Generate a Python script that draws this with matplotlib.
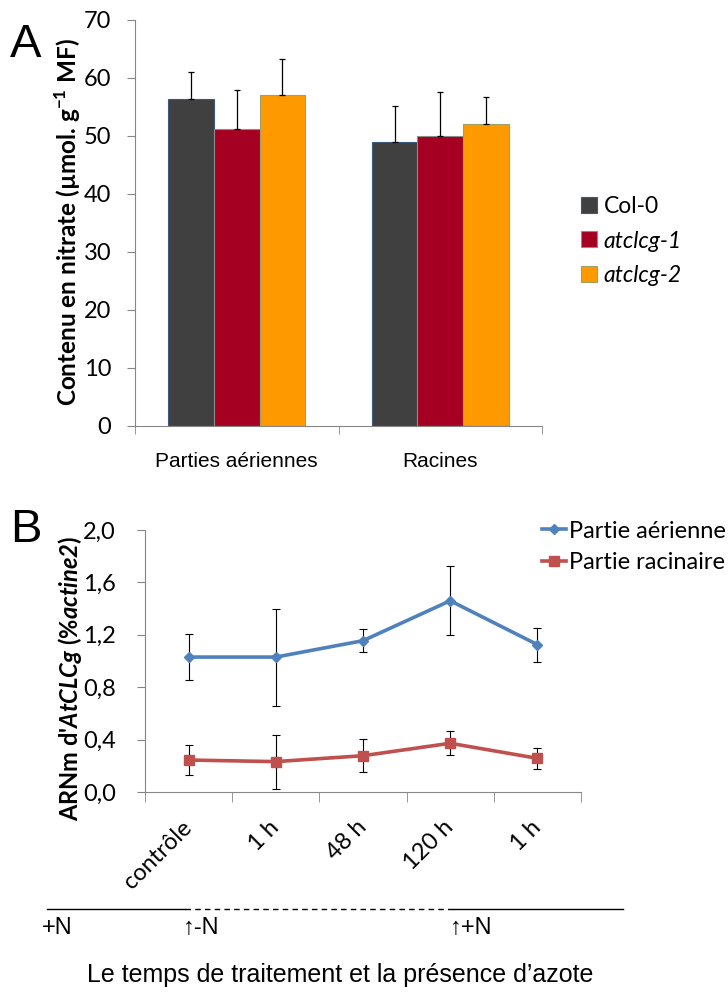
import matplotlib
matplotlib.use('Agg')
import matplotlib.pyplot as plt
import matplotlib.transforms as mtransforms
import numpy as np
from matplotlib.patches import Patch
from matplotlib.lines import Line2D

plt.rcParams['font.family'] = ['Lato', 'DejaVu Sans']
plt.rcParams['mathtext.fontset'] = 'custom'
plt.rcParams['mathtext.rm'] = 'Lato:bold'
plt.rcParams['mathtext.bfit'] = 'Lato:italic:bold'

# --- panel A data: nitrate content
organs = ['Parties aériennes', 'Racines']
genotypes = ['Col-0', 'atclcg-1', 'atclcg-2']
nitrate_col0 = [56.4, 48.9]
nitrate_col0_err = [4.6, 6.2]
nitrate_clcg1 = [51.2, 50.0]
nitrate_clcg1_err = [6.7, 7.5]
nitrate_clcg2 = [57.0, 52.1]
nitrate_clcg2_err = [6.2, 4.7]
bar_colors = ['#404040', '#A50021', '#FF9900']
bar_edges = ['#3B5A80', '#8C8C8C', '#A0A060']

# --- panel B data: AtCLCg mRNA
times = ['contrôle', '1 h', '48 h', '120 h', '1 h']
aerienne = [1.03, 1.03, 1.155, 1.46, 1.125]
aerienne_err = [0.175, 0.37, 0.088, 0.262, 0.13]
racinaire = [0.244, 0.232, 0.277, 0.372, 0.257]
racinaire_err = [0.117, 0.206, 0.127, 0.09, 0.082]
series_b = ['Partie aérienne', 'Partie racinaire']
yticks_b = [0.0, 0.4, 0.8, 1.2, 1.6, 2.0]
yticklabels_b = ['0,0', '0,4', '0,8', '1,2', '1,6', '2,0']

W, H = 728, 996
fig = plt.figure(figsize=(W / 100, H / 100), dpi=100)

def px(x0, y0, x1, y1):
    return [x0 / W, 1 - y1 / H, (x1 - x0) / W, (y1 - y0) / H]

axis_grey = '#868686'
arial = ['Liberation Sans', 'DejaVu Sans']

# ---------------- panel A
axA = fig.add_axes(px(135, 20, 542, 426))
x = np.arange(len(organs))
bw = 0.2236
vals = [nitrate_col0, nitrate_clcg1, nitrate_clcg2]
errs = [nitrate_col0_err, nitrate_clcg1_err, nitrate_clcg2_err]
for i, (v, e) in enumerate(zip(vals, errs)):
    axA.bar(x + (i - 1) * bw, v, bw, color=bar_colors[i], edgecolor=bar_edges[i],
            linewidth=0.8, yerr=[np.zeros(len(e)), e],
            error_kw=dict(ecolor='black', elinewidth=0.9, capsize=2.5, capthick=0.9),
            label=genotypes[i], zorder=2)
axA.set_xlim(-0.5, 1.5)
axA.set_ylim(0, 70)
axA.set_yticks(np.arange(0, 71, 10))
axA.set_xticks(x)
axA.set_xticklabels(organs, fontsize=15, family=arial)
axA.set_xticks([-0.5, 0.5, 1.5], minor=True)
axA.tick_params(axis='x', which='major', length=0, pad=19)
axA.tick_params(axis='x', which='minor', length=6, color=axis_grey, direction='out')
axA.tick_params(axis='y', length=6, color=axis_grey, labelsize=17, pad=11)
for s in ['top', 'right']:
    axA.spines[s].set_visible(False)
for s in ['left', 'bottom']:
    axA.spines[s].set_color(axis_grey)
fig.text(68 / W, 1 - 222 / H, r'Contenu en nitrate (µmol. g$^{-1}$ MF)',
         rotation=90, ha='center', va='center', fontsize=17.5, fontweight='bold')
fig.text(10 / W, 1 - 45 / H, 'A', fontsize=34, family=arial, ha='left', va='center')

handlesA = [Patch(facecolor=bar_colors[i], edgecolor=bar_edges[i], linewidth=0.8)
            for i in range(3)]
legA = fig.legend(handlesA, genotypes, loc='center left',
                  bbox_to_anchor=(581 / W, 1 - 241 / H), frameon=False, fontsize=16.5,
                  handlelength=0.7, handleheight=0.7, handletextpad=0.3,
                  labelspacing=0.6, borderpad=0, borderaxespad=0)
for t in legA.get_texts()[1:]:
    t.set_style('italic')

# ---------------- panel B
axB = fig.add_axes(px(145, 530, 581, 792))
xb = np.arange(len(times))
colors_b = ['#4F81BD', '#C0504D']
markers_b = [('D', 5.5), ('s', 7)]
for ys, es, c, (m, ms), lab in zip([aerienne, racinaire], [aerienne_err, racinaire_err],
                                   colors_b, markers_b, series_b):
    axB.errorbar(xb, ys, yerr=es, color=c, lw=2.6, marker=m, ms=ms, ecolor='black',
                 elinewidth=0.8, capsize=3, capthick=0.8, zorder=3)
axB.set_xlim(-0.5, len(times) - 0.5)
axB.set_ylim(0, 2.0)
axB.set_yticks(yticks_b)
axB.set_yticklabels(yticklabels_b)
axB.set_xticks(xb)
axB.set_xticklabels(times, rotation=45, ha='right', va='center',
                    rotation_mode='anchor', fontsize=17)
axB.set_xticks(np.arange(-0.5, len(times)), minor=True)
axB.tick_params(axis='x', which='major', length=0, pad=23)
axB.tick_params(axis='x', which='minor', length=7, color=axis_grey, direction='out')
axB.tick_params(axis='y', length=6, color=axis_grey, labelsize=17, pad=15)
for s in ['top', 'right']:
    axB.spines[s].set_visible(False)
for s in ['left', 'bottom']:
    axB.spines[s].set_color(axis_grey)
fig.text(70 / W, 1 - 678 / H, r"ARNm d'$\mathbfit{AtCLCg}$ (%$\mathbfit{actine2}$)",
         rotation=90, ha='center', va='center', fontsize=17, fontweight='bold')
fig.text(10 / W, 1 - 530 / H, 'B', fontsize=34, family=arial, ha='left', va='center')

handlesB = [Line2D([], [], color=c, lw=2.6, marker=m, ms=ms)
            for c, (m, ms) in zip(colors_b, markers_b)]
legB = fig.legend(handlesB, series_b, loc='center left',
                  bbox_to_anchor=(542 / W, 1 - 547 / H), frameon=False, fontsize=17,
                  handlelength=1.0, handletextpad=0.15, labelspacing=0.45,
                  borderpad=0, borderaxespad=0)

# nitrogen regime annotation under panel B
tr = mtransforms.blended_transform_factory(axB.transData, fig.transFigure)
yl = 1 - 909 / H
fig.add_artist(Line2D([-1.62, -0.04], [yl, yl], transform=tr, color='black', lw=1))
fig.add_artist(Line2D([-0.04, 3.03], [yl, yl], transform=tr, color='black', lw=1,
                      dashes=(4, 3)))
fig.add_artist(Line2D([3.03, 4.98], [yl, yl], transform=tr, color='black', lw=1))
yt = 1 - 928 / H
fig.text(-1.68, yt, '+N', transform=tr, fontsize=17, family=arial, ha='left', va='center')
fig.text(-0.07, yt, '↑-N', transform=tr, fontsize=17, family=arial, ha='left', va='center')
fig.text(3.0, yt, '↑+N', transform=tr, fontsize=17, family=arial, ha='left', va='center')
fig.text(340 / W, 1 - 975 / H, 'Le temps de traitement et la présence d’azote',
         fontsize=18, family=arial, ha='center', va='center')

fig.savefig('out.png', dpi=100)
